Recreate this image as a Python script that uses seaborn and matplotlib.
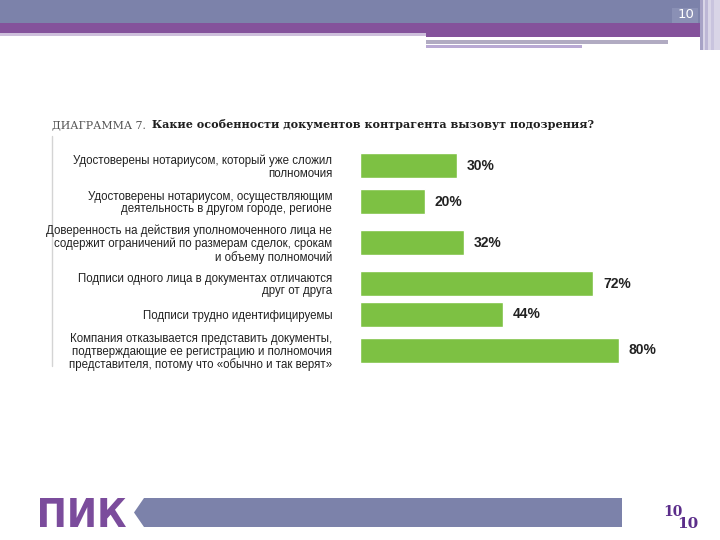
"""
Slide 10: survey bar chart "ДИАГРАММА 7" recreated with seaborn.
"""

import matplotlib
matplotlib.use('Agg')
import matplotlib.pyplot as plt
from matplotlib.font_manager import FontProperties
from matplotlib.patches import Rectangle, Polygon, PathPatch
from matplotlib.textpath import TextPath
from matplotlib.transforms import Affine2D
import seaborn as sns


# Chart data
TITLE_PREFIX = 'ДИАГРАММА 7.'
TITLE = 'Какие особенности документов контрагента вызовут подозрения?'

QUESTIONS = [
    'Удостоверены нотариусом, который уже сложил\nполномочия',
    'Удостоверены нотариусом, осуществляющим\nдеятельность в другом городе, регионе',
    'Доверенность на действия уполномоченного лица не\nсодержит ограничений по размерам сделок, срокам\nи объему полномочий',
    'Подписи одного лица в документах отличаются\nдруг от друга',
    'Подписи трудно идентифицируемы',
    'Компания отказывается представить документы,\nподтверждающие ее регистрацию и полномочия\nпредставителя, потому что «обычно и так верят»',
]
SHARES = [30, 20, 32, 72, 44, 80]

PAGE = '10'
LOGO = 'ПИК'

# Colours
GREEN = '#7dc143'
SLATE = '#7c82aa'
PURPLE = '#84529b'
LOGO_PURPLE = '#7b4c9c'
NUM_PURPLE = '#5b2d8a'


def row_positions(labels):
    """Row centres spaced by how many text lines each label takes."""
    lines = [lab.count('\n') + 1 for lab in labels]
    pos = [0.0]
    for a, b in zip(lines[:-1], lines[1:]):
        pos.append(pos[-1] + 16 + 10 * (a + b) / 2)
    return pos


def draw_logo(bg, text, box, color):
    """Draw text as a path stretched to fill box=(x0, y0, x1, y1) in pixels."""
    tp = TextPath((0, 0), text, size=100,
                  prop=FontProperties(family='DejaVu Sans', weight='bold'))
    ext = tp.get_extents()
    x0, y0, x1, y1 = box
    sx = (x1 - x0) / ext.width
    sy = (y1 - y0) / ext.height
    tr = (Affine2D().translate(-ext.x0, -ext.y0)
          .scale(sx, -sy).translate(x0, y1))
    bg.add_patch(PathPatch(tr.transform_path(tp), color=color, lw=0))


def draw_slide_frame(bg):
    """Header and footer decorations of the presentation slide."""
    # header bands
    bg.add_patch(Rectangle((0, 0), 700, 23, color=SLATE, lw=0))
    bg.add_patch(Rectangle((0, 23), 700, 10, color=PURPLE, lw=0))
    bg.add_patch(Rectangle((0, 33), 426, 3, color='#cdbfdb', lw=0))
    bg.add_patch(Rectangle((426, 33), 274, 4, color=PURPLE, lw=0))
    bg.add_patch(Rectangle((426, 40), 242, 4, color='#b1abc2', lw=0))
    bg.add_patch(Rectangle((426, 45), 156, 3, color='#b9a9d4', lw=0))
    bg.add_patch(Rectangle((672, 8), 26, 15, color='#8a90b5', lw=0))
    # right edge strips
    bg.add_patch(Rectangle((700, 0), 20, 50, color='#d9d5e7', lw=0))
    for x, c in [(700, '#a7a2c6'), (705, '#bdb7d6'), (711, '#c9c4de')]:
        bg.add_patch(Rectangle((x, 0), 2.5, 50, color=c, lw=0))
    bg.text(686, 15, PAGE, color='white', fontsize=9.5, ha='center', va='center',
            family='DejaVu Sans')

    # footer: logo, band, double page number
    draw_logo(bg, LOGO, (40, 498, 126, 527), LOGO_PURPLE)
    bg.add_patch(Polygon([(144, 498), (622, 498), (622, 527), (144, 527), (134, 512.5)],
                         closed=True, color=SLATE, lw=0))
    bg.text(673, 512, PAGE, color=NUM_PURPLE, fontsize=10, fontweight='bold',
            ha='center', va='center', family='DejaVu Serif')
    bg.text(688, 524, PAGE, color=NUM_PURPLE, fontsize=11, fontweight='bold',
            ha='center', va='center', family='DejaVu Serif')

    # faint left border of the chart picture
    bg.plot([52, 52], [136, 366], color='#d4d4d4', lw=1)


def main():
    sns.set_theme(style='white')
    plt.rcParams['font.family'] = ['Liberation Sans', 'DejaVu Sans']

    fig = plt.figure(figsize=(7.2, 5.4), dpi=100)
    fig.patch.set_facecolor('white')

    bg = fig.add_axes([0, 0, 1, 1], zorder=0)
    bg.set_xlim(0, 720)
    bg.set_ylim(540, 0)
    bg.axis('off')
    draw_slide_frame(bg)

    # title
    bg.text(52, 125, TITLE_PREFIX, color='#555555', fontsize=7.8,
            family='DejaVu Serif', ha='left', va='center')
    bg.text(152, 125, TITLE, color='#1e1e1e', fontsize=8.0, fontweight='bold',
            family='DejaVu Serif', ha='left', va='center')

    # bar chart
    pos = row_positions(QUESTIONS)
    ax = fig.add_axes([360 / 720, 1 - 370 / 540, 324 / 720, 233 / 540], zorder=1)
    ax.patch.set_alpha(0)
    sns.barplot(x=SHARES, y=pos, orient='y', native_scale=True, color=GREEN,
                saturation=1, width=0.8, ax=ax)
    ax.bar_label(ax.containers[0], labels=[f'{v}%' for v in SHARES], padding=7,
                 fontsize=10, fontweight='bold', color='#222222')

    ax.set_xlim(0, 100)
    ax.set_ylim(pos[0] + 204.5, pos[0] - 28.5)
    ax.set_yticks(pos)
    ax.set_yticklabels(QUESTIONS, fontsize=8.3, color='#222222', linespacing=1.05)
    ax.set_xticks([])
    ax.tick_params(axis='y', length=0, pad=20)
    ax.set_xlabel('')
    ax.set_ylabel('')
    sns.despine(ax=ax, left=True, bottom=True)

    fig.savefig('out.png', dpi=100, facecolor='white')
    plt.close(fig)


if __name__ == '__main__':
    main()
